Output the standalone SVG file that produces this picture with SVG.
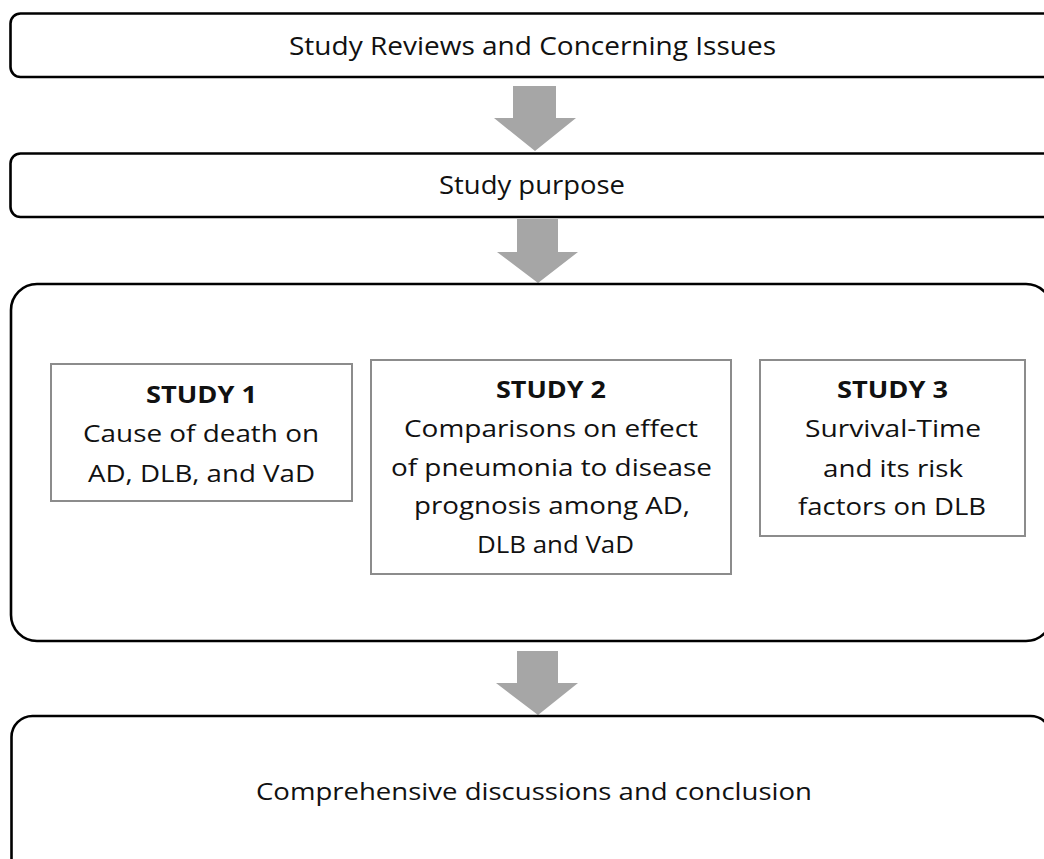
<svg xmlns="http://www.w3.org/2000/svg" width="1044" height="859" viewBox="0 0 1044 859">
<style>
.outer{fill:#fff;stroke:#000;stroke-width:2.6}
.inner{fill:#fff;stroke:#8c8c8c;stroke-width:2}
.arrow{fill:#a6a6a6;stroke:none}
text{font-family:"Open Sans","Noto Sans","Liberation Sans",sans-serif;fill:#111;text-anchor:middle}
.big{font-size:26px}
.mid{font-size:24px}
.b{font-weight:bold}
</style>
<rect width="1044" height="859" fill="#fff"/>
<g id="connectors">
<polygon class="arrow" points="513,86 556,86 556,118 576,118 535,151 494,118 513,118"/>
<polygon class="arrow" points="517,219 558,219 558,252 578,252 538,283 497,252 517,252"/>
<polygon class="arrow" points="517,651 558,651 558,683 578,683 538,715 496,683 517,683"/>
</g>
<g id="n-reviews">
<rect class="outer" x="10.5" y="13.5" width="1050" height="63.5" rx="10"/>
<text class="big" x="532.5" y="55" textLength="487" lengthAdjust="spacingAndGlyphs">Study Reviews and Concerning Issues</text>
</g>
<g id="n-purpose">
<rect class="outer" x="10.5" y="153.5" width="1050" height="63.5" rx="10"/>
<text class="big" x="532" y="194" textLength="186" lengthAdjust="spacingAndGlyphs">Study purpose</text>
</g>
<g id="n-studies">
<rect class="outer" x="11" y="284" width="1041" height="357" rx="26"/>
</g>
<g id="n-study1">
<rect class="inner" x="51" y="364" width="301" height="137"/>
<text class="mid b" x="201.5" y="403" textLength="111" lengthAdjust="spacingAndGlyphs">STUDY 1</text>
<text class="mid" x="201" y="442" textLength="236" lengthAdjust="spacingAndGlyphs">Cause of death on</text>
<text class="mid" x="201.5" y="482" textLength="227" lengthAdjust="spacingAndGlyphs">AD, DLB, and VaD</text>
</g>
<g id="n-study2">
<rect class="inner" x="371" y="360" width="360" height="214"/>
<text class="mid b" x="551" y="398" textLength="110" lengthAdjust="spacingAndGlyphs">STUDY 2</text>
<text class="mid" x="551" y="437" textLength="294" lengthAdjust="spacingAndGlyphs">Comparisons on effect</text>
<text class="mid" x="551.5" y="476" textLength="321" lengthAdjust="spacingAndGlyphs">of pneumonia to disease</text>
<text class="mid" x="552" y="514" textLength="276" lengthAdjust="spacingAndGlyphs">prognosis among AD,</text>
<text class="mid" x="555.5" y="553" textLength="157" lengthAdjust="spacingAndGlyphs">DLB and VaD</text>
</g>
<g id="n-study3">
<rect class="inner" x="760" y="360" width="265" height="176"/>
<text class="mid b" x="892.5" y="398" textLength="111" lengthAdjust="spacingAndGlyphs">STUDY 3</text>
<text class="mid" x="893" y="437" textLength="176" lengthAdjust="spacingAndGlyphs">Survival-Time</text>
<text class="mid" x="893" y="477" textLength="140" lengthAdjust="spacingAndGlyphs">and its risk</text>
<text class="mid" x="892" y="515" textLength="188" lengthAdjust="spacingAndGlyphs">factors on DLB</text>
</g>
<g id="n-conclusion">
<rect class="outer" x="11.5" y="716" width="1040" height="170" rx="21"/>
<text class="mid" x="534" y="800" textLength="556" lengthAdjust="spacingAndGlyphs">Comprehensive discussions and conclusion</text>
</g>
</svg>
